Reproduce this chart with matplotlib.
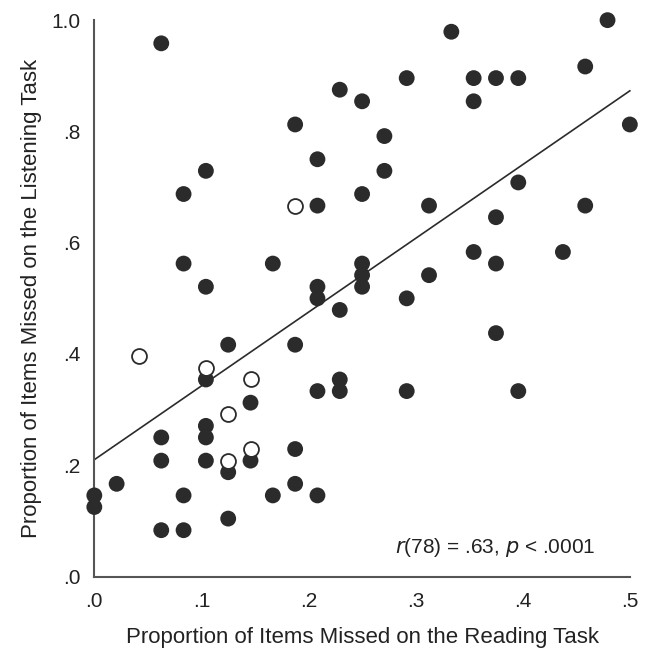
import numpy as np
import matplotlib
matplotlib.use("Agg")
import matplotlib.pyplot as plt

plt.rcParams['font.family'] = ['Liberation Sans Narrow', 'Liberation Sans', 'DejaVu Sans']

# values, in 48ths (proportion of 48 items)
filled_x48 = [3, 11, 12, 9, 10, 5, 4, 12, 10, 4, 8, 5, 10, 10, 12, 12, 12,
              16, 23, 22, 14, 17, 18, 19, 17, 24, 13, 13, 19, 15, 22, 18,
              17, 21, 18, 15, 14, 11, 6, 9, 5, 7, 10, 11, 11, 5, 5, 3,
              3, 5, 6, 7, 9, 9, 1, 0, 0, 4, 8, 10, 6, 3, 4, 18, 14, 19]
filled_y48 = [46, 42, 41, 39, 36, 35, 33, 33, 32, 27, 27, 25, 25, 24, 27, 26, 25,
              47, 48, 44, 43, 43, 43, 43, 41, 39, 38, 35, 34, 32, 32, 31,
              28, 28, 27, 26, 24, 23, 20, 20, 17, 15, 16, 17, 16, 13, 12, 12,
              10, 10, 9, 10, 11, 8, 8, 7, 6, 7, 7, 7, 5, 4, 4, 21, 16, 16]
open_x48 = [9, 2, 5, 7, 6, 7, 6]
open_y48 = [32, 19, 18, 17, 14, 11, 10]

fit_x = [0.0, 0.5]
fit_y = [0.21, 0.873]

x_ticks = [0.0, 0.1, 0.2, 0.3, 0.4, 0.5]
x_labels = ['.0', '.1', '.2', '.3', '.4', '.5']
y_ticks = [0.0, 0.2, 0.4, 0.6, 0.8, 1.0]
y_labels = ['.0', '.2', '.4', '.6', '.8', '1.0']

fx = np.array(filled_x48) / 48
fy = np.array(filled_y48) / 48
ox = np.array(open_x48) / 48
oy = np.array(open_y48) / 48

fig = plt.figure(figsize=(6.46, 6.5), dpi=100)
ax = fig.add_axes([0.146, 0.113, 0.829, 0.856])

dot = '#2b2b2b'
ax.plot(fit_x, fit_y, color=dot, lw=1.2, zorder=2, clip_on=False)
ax.scatter(fx, fy, s=130, color=dot, edgecolors='none', zorder=3, clip_on=False)
ax.scatter(ox, oy, s=115, facecolors='white', edgecolors=dot, linewidths=1.3,
           zorder=4, clip_on=False)

ax.set_xlim(0, 0.5)
ax.set_ylim(0, 1.0)
ax.set_xticks(x_ticks)
ax.set_xticklabels(x_labels)
ax.set_yticks(y_ticks)
ax.set_yticklabels(y_labels)
ax.tick_params(length=0, labelsize=15, colors='#222222', pad=10)
ax.tick_params(axis='x', pad=11)

for s in ['top', 'right']:
    ax.spines[s].set_visible(False)
for s in ['left', 'bottom']:
    ax.spines[s].set_color('#555555')
    ax.spines[s].set_linewidth(1.5)

ax.set_xlabel('Proportion of Items Missed on the Reading Task', fontsize=16,
              color='#222222', labelpad=12)
ax.set_ylabel('Proportion of Items Missed on the Listening Task', fontsize=16,
              color='#222222', labelpad=7)

ax.text(0.935, 0.052, r'$\mathit{r}$(78) = .63, $\mathit{p}$ < .0001',
        transform=ax.transAxes, ha='right', va='center', fontsize=15, color='#222222')

fig.savefig('out.png', dpi=100)
